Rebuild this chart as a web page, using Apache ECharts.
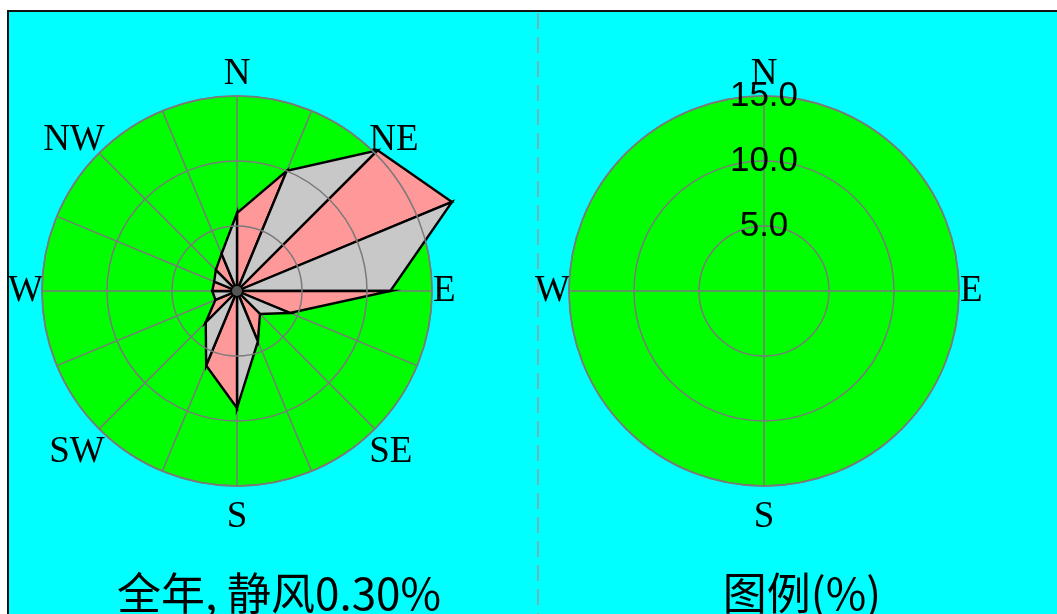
<!DOCTYPE html>
<html>
<head>
<meta charset="utf-8">
<script src="https://cdn.jsdelivr.net/npm/echarts@6/dist/echarts.min.js"></script>
<style>
  html, body { margin: 0; padding: 0; background: #ffffff; }
  #chart { width: 1057px; height: 614px; }
</style>
</head>
<body>
<div id="chart"></div>
<script>
// 16-point compass, clockwise from north
const directions = ['N', 'NNE', 'NE', 'ENE', 'E', 'ESE', 'SE', 'SSE', 'S', 'SSW', 'SW', 'WSW', 'W', 'WNW', 'NW', 'NNW'];
// annual wind direction frequency (%)
const frequency = [6.0, 10.0, 15.3, 17.9, 11.8, 4.4, 2.5, 4.2, 9.0, 6.2, 3.4, 1.8, 1.9, 1.9, 2.3, 3.1];
// directions that carry a text label on the rose
const compassLabels = ['N', 'NE', 'E', 'SE', 'S', 'SW', 'W', 'NW'];
// key circle directions
const legendDirections = ['N', 'E', 'S', 'W'];
const ringMax = 15;
const ringStep = 5;
const roseTitle = '全年, 静风0.30%';
const legendTitle = '图例(%)';

const GRID = '#7a7a7a';
const PINK = '#ff9999';
const SILVER = '#c8c8c8';
const SERIF = '"Liberation Serif", "Times New Roman", serif';
const roseStep = 360 / directions.length;
const legendStep = 360 / legendDirections.length;

// per-label nudges so every compass letter sits snugly against the circle
const compassPad = { N: [0, 0, 11, 0], NE: [0, 0, 0, 0], E: [0, 0, 0, 9], SE: [11, 0, 0, 0],
                     S: [21, 0, 0, 0], SW: [11, 0, 0, 0], W: [0, 7, 0, 0], NW: [0, 0, 0, 0] };
const compassRich = {};
compassLabels.forEach(k => {
  compassRich[k] = { color: '#000', fontFamily: SERIF, fontSize: 37, padding: compassPad[k] };
});

function compassLabel(name) {
  return compassLabels.includes(name) ? '{' + name + '|' + name + '}' : '';
}

function roseSector(params, api) {
  const i = params.dataIndex;
  const j = (i + 1) % directions.length;
  const c = api.coord([0, 0]);
  const a = api.coord([api.value(0), api.value(1)]);
  const b = api.coord([frequency[j], j * roseStep]);
  const children = [{
    type: 'polygon',
    shape: { points: [c, a, b] },
    style: { fill: i % 2 === 0 ? PINK : SILVER, stroke: '#000', lineWidth: 2.4, lineJoin: 'miter' }
  }];
  if (i === directions.length - 1) {
    children.push({ type: 'circle', shape: { cx: c[0], cy: c[1], r: 5 }, style: { fill: '#555' } });
  }
  return { type: 'group', children };
}

function angleAxis(polarIndex, step, names, withMarks) {
  const base = {
    polarIndex, type: 'value', min: 0, max: 360, interval: step, startAngle: 90, clockwise: true,
    z: withMarks ? 1 : 5,
    axisTick: { show: false }
  };
  if (!withMarks) {
    return Object.assign(base, { axisLine: { show: false }, axisLabel: { show: false }, splitLine: { show: false } });
  }
  return Object.assign(base, {
    axisLine: { show: true, lineStyle: { color: GRID, width: 1.5 } },
    axisLabel: {
      margin: -8, rich: compassRich,
      formatter: v => (v >= 360 ? '' : compassLabel(names[Math.round(v / step)]))
    },
    splitLine: { show: true, lineStyle: { color: GRID, width: 1.5 } }
  });
}

function backgroundRadius(polarIndex) {
  return {
    polarIndex, min: 0, max: ringMax, interval: ringStep, z: 0,
    axisLine: { show: false }, axisTick: { show: false }, axisLabel: { show: false },
    splitLine: { show: false },
    splitArea: { show: true, areaStyle: { color: ['#00ff00'] } }
  };
}

function ringRadius(polarIndex, labelled) {
  return {
    polarIndex, min: 0, max: ringMax, interval: ringStep, angle: 90, z: 5,
    axisLine: { show: false }, axisTick: { show: false },
    axisLabel: labelled ? {
      show: true, margin: 0, align: 'center', verticalAlign: 'middle',
      color: '#000', fontFamily: '"Liberation Sans", Arial, sans-serif', fontSize: 35,
      formatter: v => (v === 0 ? '' : Number(v).toFixed(1))
    } : { show: false },
    splitLine: { show: true, lineStyle: { color: GRID, width: 1.5 } },
    splitArea: { show: false }
  };
}

const titleStyle = { fontFamily: '"Noto Sans CJK SC", sans-serif', fontSize: 44, fontWeight: 'normal', color: '#000' };

const chart = echarts.init(document.getElementById('chart'), null, { renderer: 'canvas' });
chart.setOption({
  backgroundColor: '#ffffff',
  animation: false,
  graphic: [
    { type: 'rect', z: -10, shape: { x: 8, y: 11, width: 1100, height: 700 },
      style: { fill: '#00ffff', stroke: '#111', lineWidth: 2 } },
    { type: 'line', z: -5, shape: { x1: 538, y1: 13, x2: 538, y2: 614 },
      style: { stroke: '#9a9a9a', lineWidth: 1.5, lineDash: [16, 8] } }
  ],
  title: [
    { text: roseTitle, left: 274, top: 566, textAlign: 'center', textStyle: titleStyle },
    { text: legendTitle, left: 797, top: 566, textAlign: 'center', textStyle: titleStyle }
  ],
  polar: [
    { center: [237, 291], radius: 195 },
    { center: [237, 291], radius: 195 },
    { center: [764, 291], radius: 195 },
    { center: [764, 291], radius: 195 }
  ],
  angleAxis: [
    angleAxis(0, roseStep, directions, true),
    angleAxis(1, roseStep, directions, false),
    angleAxis(2, legendStep, legendDirections, true),
    angleAxis(3, legendStep, legendDirections, false)
  ],
  radiusAxis: [
    backgroundRadius(0),
    ringRadius(1, false),
    backgroundRadius(2),
    ringRadius(3, true)
  ],
  series: [{
    type: 'custom',
    coordinateSystem: 'polar',
    polarIndex: 0,
    z: 2,
    clip: false,
    data: frequency.map((v, i) => [v, i * roseStep]),
    renderItem: roseSector
  }]
});
</script>
</body>
</html>
